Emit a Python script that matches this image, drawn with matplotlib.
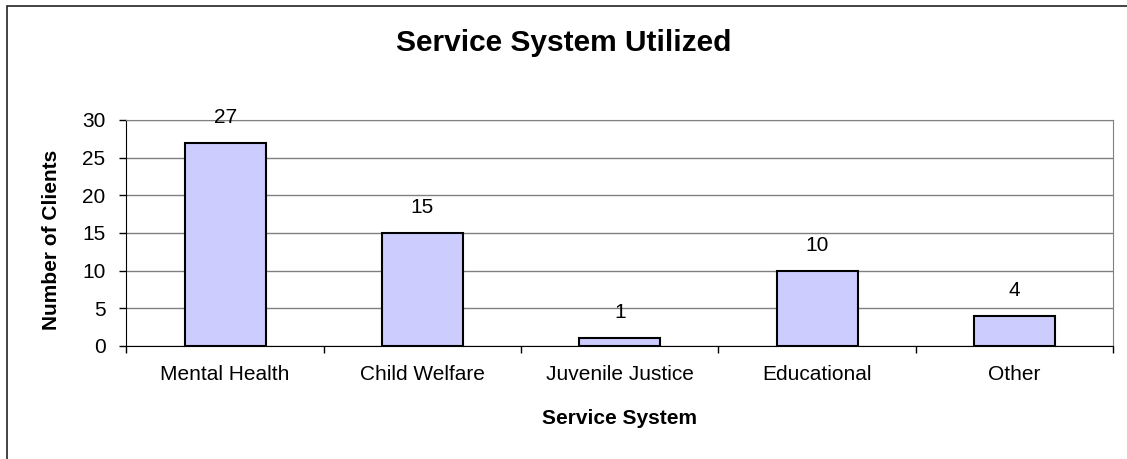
import matplotlib
matplotlib.use("Agg")
from matplotlib import pyplot as plt
from matplotlib.patches import Rectangle

plt.rcParams['font.family'] = ['Liberation Sans', 'DejaVu Sans']

# данные
categories = ['Mental Health', 'Child Welfare', 'Juvenile Justice', 'Educational', 'Other']
clients = [27, 15, 1, 10, 4]
yTicks = [0, 5, 10, 15, 20, 25, 30]

fig = plt.figure(figsize=(11.27, 4.59), dpi=100)
ax = fig.add_axes([0.1122, 0.2462, 0.8754, 0.4924])

x = list(range(len(categories)))
ax.bar(x, clients, width=0.41, color='#CCCCFF', edgecolor='black',
       linewidth=1.5, zorder=3)

# подписи значений над столбцами
for xi, v in zip(x, clients):
    ax.annotate(str(v), (xi, v), xytext=(0, 14.4), textcoords='offset points',
                ha='center', va='baseline', fontsize=15, zorder=4)

ax.set_xlim(-0.5, len(categories) - 0.5)
ax.set_ylim(0, 30)
ax.set_yticks(yTicks)
ax.set_yticklabels([str(t) for t in yTicks], fontsize=15)
ax.yaxis.grid(True, color='#808080', linewidth=1, zorder=0)

# деления между категориями, подписи по центру
ax.set_xticks(x)
ax.set_xticklabels(categories, fontsize=15)
ax.tick_params(axis='x', which='major', length=0, pad=14)
ax.set_xticks([i - 0.5 for i in range(len(categories) + 1)], minor=True)
ax.tick_params(axis='x', which='minor', length=5, width=1, color='black')
ax.tick_params(axis='y', length=5, width=1, color='black', pad=10)

for side in ['top', 'right']:
    ax.spines[side].set_color('#808080')
for side in ['left', 'bottom']:
    ax.spines[side].set_color('black')

ax.set_xlabel('Service System', fontsize=15, fontweight='bold')
ax.xaxis.label.set_va('center')
ax.xaxis.set_label_coords(0.5, (346 - 419) / 226)
ax.set_ylabel('Number of Clients', fontsize=15, fontweight='bold')
ax.yaxis.label.set_va('center')
ax.yaxis.set_label_coords((52 - 126.5) / 986.5, (346 - 240) / 226)

fig.text(0.5, 1 - 43 / 459, 'Service System Utilized', ha='center', va='center',
         fontsize=21.5, fontweight='bold')

# внешняя рамка
fig.patches.append(Rectangle((7 / 1127, -0.1), 1.2, (459 - 6) / 459 + 0.1,
                             transform=fig.transFigure, fill=False,
                             edgecolor='#222222', linewidth=1.2))

fig.savefig('out.png', dpi=100)
